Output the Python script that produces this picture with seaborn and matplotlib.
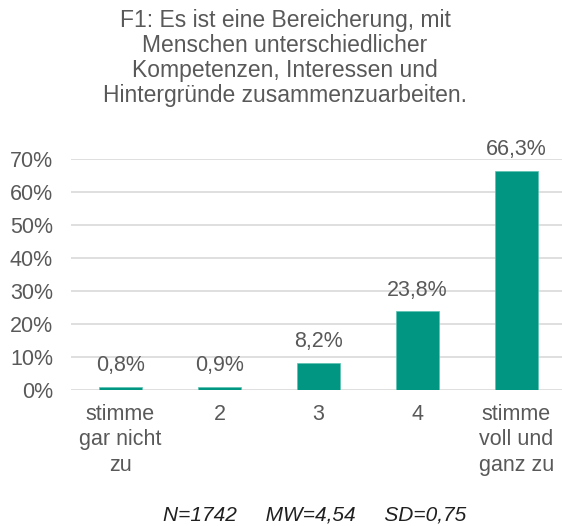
import matplotlib
matplotlib.use("Agg")
import matplotlib.pyplot as plt
import seaborn as sns
import pandas as pd

categories = ["stimme\ngar nicht\nzu", "2", "3", "4", "stimme\nvoll und\nganz zu"]
values = [0.8, 0.9, 8.2, 23.8, 66.3]
value_labels = ["0,8%", "0,9%", "8,2%", "23,8%", "66,3%"]
y_ticks = [0, 10, 20, 30, 40, 50, 60, 70]
y_tick_labels = ["0%", "10%", "20%", "30%", "40%", "50%", "60%", "70%"]
title = "F1: Es ist eine Bereicherung, mit\nMenschen unterschiedlicher\nKompetenzen, Interessen und\nHintergründe zusammenzuarbeiten."
footer = "N=1742     MW=4,54     SD=0,75"

sns.set_theme(style="white")
plt.rcParams["font.family"] = ["Liberation Sans", "DejaVu Sans"]

text_color = "#595959"
bar_color = "#009682"
fs = 15.5

df = pd.DataFrame({"cat": categories, "val": values})

fig = plt.figure(figsize=(5.62, 5.26), dpi=100)
ax = fig.add_axes([71 / 562, 1 - 390 / 526, (566 - 71) / 562, (390 - 159) / 526])

sns.barplot(data=df, x="cat", y="val", color=bar_color, width=0.44, ax=ax,
            saturation=1, edgecolor="#5cc2b2", linewidth=0.5)

ax.set_ylim(0, 70)
ax.set_yticks(y_ticks)
ax.set_yticklabels(y_tick_labels, fontsize=fs, color=text_color)
ax.tick_params(axis="x", labelsize=fs, colors=text_color, length=0, pad=10)
ax.tick_params(axis="y", length=0, pad=13)
ax.set_xlabel("")
ax.set_ylabel("")
for s in ax.spines.values():
    s.set_visible(False)
ax.set_axisbelow(True)
ax.yaxis.grid(True, color="#d9d9d9", linewidth=1.2)
ax.set_xlim(-0.5, 4.5)

for i, (v, lab) in enumerate(zip(values, value_labels)):
    ax.text(i, v + 3.3, lab, ha="center", va="bottom", fontsize=fs, color=text_color)

for lbl in ax.get_xticklabels():
    lbl.set_linespacing(1.28)

fig.text(285 / 562, 1 - 9 / 526, title, ha="center", va="top", fontsize=16.5,
         color=text_color, linespacing=1.12)
fig.text(315 / 562, 1 - 515 / 526, footer, ha="center", va="center", fontsize=15,
         style="italic", color="#202020")

fig.savefig("out.png", dpi=100)
